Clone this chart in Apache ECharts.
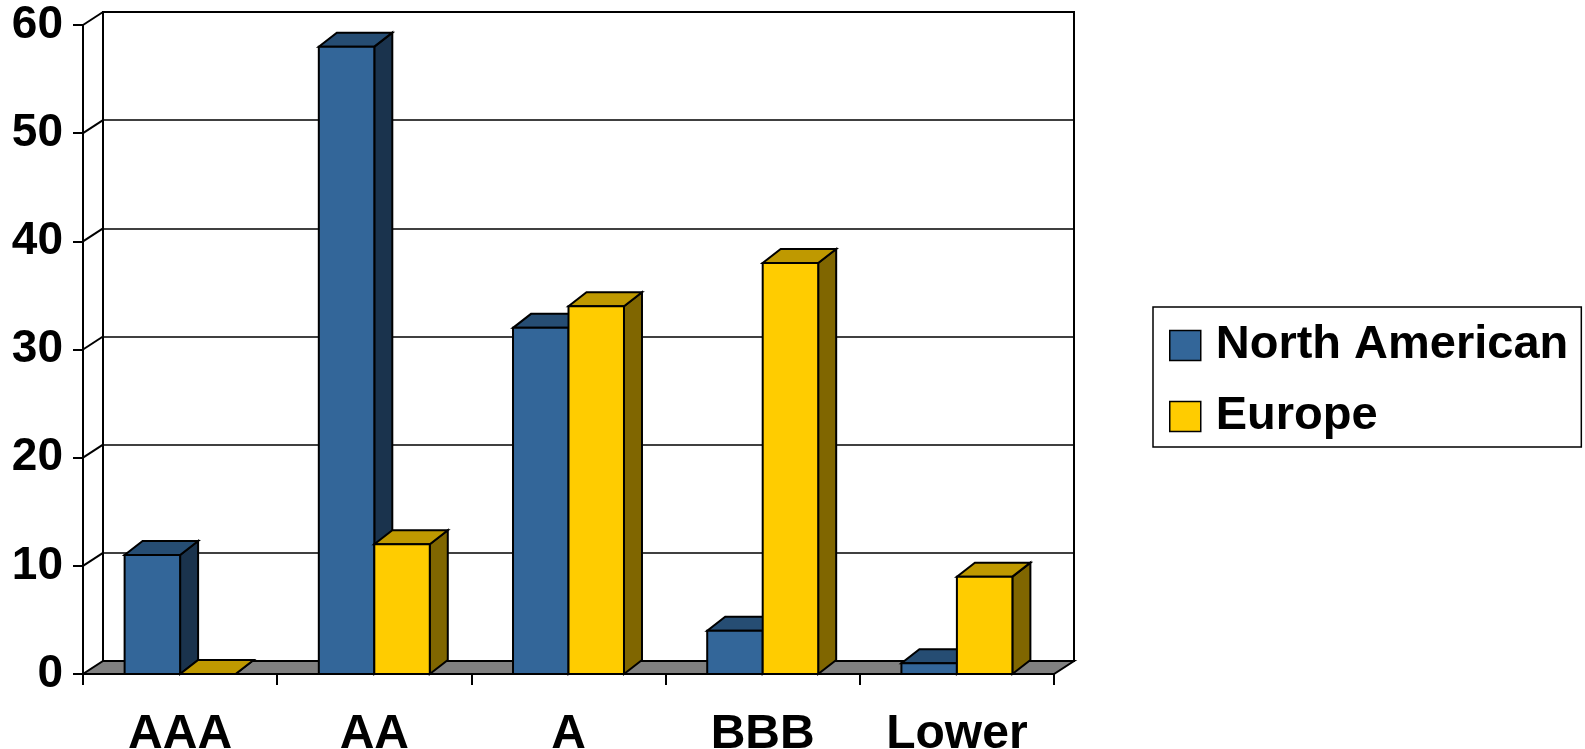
<!DOCTYPE html>
<html>
<head>
<meta charset="utf-8">
<script src="https://cdn.jsdelivr.net/npm/echarts@6/dist/echarts.min.js"></script>
<style>
  html, body { margin: 0; padding: 0; background: #ffffff; }
  #chart { width: 1585px; height: 749px; }
</style>
</head>
<body>
<div id="chart"></div>
<script>
// Rating categories and share per region (%)
const categories = ['AAA', 'AA', 'A', 'BBB', 'Lower'];
const northAmerican = [11, 58, 32, 4, 1];
const europe = [0, 12, 34, 38, 9];
const yTicks = [0, 10, 20, 30, 40, 50, 60];
const seriesNames = ['North American', 'Europe'];

const FONT = '"Liberation Sans", Arial, Helvetica, sans-serif';

// Oblique depth of the chart box (back wall / floor) and of each column
const WALL_DX = 20, WALL_DY = -13;
const BAR_DX = 18, BAR_DY = -14;
const GAP_RATIO = 1.5; // gap between clusters relative to one column width

const palette = {
  'North American': { front: '#336699', top: '#264D73', side: '#1A334D' },
  'Europe':         { front: '#FFCC00', top: '#BF9900', side: '#806600' }
};

const frontPlane = { left: 83, top: 25, width: 971, height: 649 };
const backPlane = {
  left: frontPlane.left + WALL_DX,
  top: frontPlane.top + WALL_DY,
  width: frontPlane.width,
  height: frontPlane.height
};

const edge = { stroke: '#000', lineWidth: 2, lineJoin: 'miter' };

// One 3D column: side face, top face, then front face
function columnRenderer(slot, colors) {
  return function (params, api) {
    const idx = api.value(0);
    const val = api.value(1);
    const topPt = api.coord([idx, val]);
    const basePt = api.coord([idx, 0]);
    const band = api.size([1, 0])[0];
    const w = band / (2 + GAP_RATIO);
    const x0 = topPt[0] - w + slot * w;
    const x1 = x0 + w;
    const yt = topPt[1];
    const yb = basePt[1];
    return {
      type: 'group',
      children: [
        {
          type: 'polygon',
          shape: { points: [[x1, yt], [x1, yb], [x1 + BAR_DX, yb + BAR_DY], [x1 + BAR_DX, yt + BAR_DY]] },
          style: Object.assign({ fill: colors.side }, edge)
        },
        {
          type: 'polygon',
          shape: { points: [[x0, yt], [x1, yt], [x1 + BAR_DX, yt + BAR_DY], [x0 + BAR_DX, yt + BAR_DY]] },
          style: Object.assign({ fill: colors.top }, edge)
        },
        {
          type: 'rect',
          shape: { x: x0, y: yt, width: w, height: yb - yt },
          style: Object.assign({ fill: colors.front }, edge)
        }
      ]
    };
  };
}

// Floor slab and the side-wall connectors at each value tick
function frameRenderer(params, api) {
  const cs = params.coordSys;
  const v = api.value(1);
  const y = api.coord([0, v])[1];
  const children = [];
  if (v === 0) {
    children.push({
      type: 'polygon',
      shape: { points: [
        [cs.x, y], [cs.x + cs.width, y],
        [cs.x + cs.width + WALL_DX, y + WALL_DY], [cs.x + WALL_DX, y + WALL_DY]
      ] },
      style: { fill: '#808080', stroke: '#000', lineWidth: 2 }
    });
  } else {
    children.push({
      type: 'line',
      shape: { x1: cs.x, y1: y, x2: cs.x + WALL_DX, y2: y + WALL_DY },
      style: { stroke: '#000', lineWidth: 2 }
    });
  }
  return { type: 'group', children: children };
}

const chart = echarts.init(document.getElementById('chart'), null, { renderer: 'canvas' });

const axisText = { fontFamily: FONT, fontWeight: 'bold', color: '#000' };

chart.setOption({
  animation: false,
  backgroundColor: '#ffffff',
  grid: [
    Object.assign({ show: false, outerBoundsMode: 'none', containLabel: false }, frontPlane),
    Object.assign({
      show: true, backgroundColor: '#ffffff', borderColor: '#000', borderWidth: 2,
      outerBoundsMode: 'none', containLabel: false
    }, backPlane)
  ],
  xAxis: [
    {
      type: 'category',
      gridIndex: 0,
      data: categories,
      axisLine: { show: true, lineStyle: { color: '#000', width: 2 } },
      axisTick: { show: true, length: 11, lineStyle: { color: '#000', width: 2 } },
      axisLabel: Object.assign({ fontSize: 48, margin: 37, interval: 0 }, axisText),
      splitLine: { show: false }
    },
    {
      type: 'category',
      gridIndex: 1,
      data: categories,
      show: false
    }
  ],
  yAxis: [
    {
      type: 'value',
      gridIndex: 0,
      min: 0, max: 60, interval: 10,
      axisLine: { show: true, lineStyle: { color: '#000', width: 2 } },
      axisTick: { show: true, length: 10, lineStyle: { color: '#000', width: 2 } },
      axisLabel: Object.assign({ fontSize: 46, margin: 20, formatter: v => String(v) }, axisText),
      splitLine: { show: false }
    },
    {
      type: 'value',
      gridIndex: 1,
      min: 0, max: 60, interval: 10,
      axisLine: { show: false },
      axisTick: { show: false },
      axisLabel: { show: false },
      splitLine: { show: true, lineStyle: { color: '#000', width: 1.5 } }
    }
  ],
  legend: {
    orient: 'vertical',
    left: 1153,
    top: 307,
    padding: [15, 13, 7, 16],
    itemWidth: 31,
    itemHeight: 30,
    itemGap: 24,
    borderColor: '#000',
    borderWidth: 1.5,
    backgroundColor: '#ffffff',
    selectedMode: false,
    textStyle: {
      fontFamily: FONT, fontSize: 47, fontWeight: 'bold', color: '#000',
      padding: [0, 0, 0, 10]
    },
    data: seriesNames.map(n => ({
      name: n,
      icon: 'rect',
      itemStyle: { color: palette[n].front, borderColor: '#000', borderWidth: 1.5 }
    }))
  },
  series: [
    {
      name: 'frame',
      type: 'custom',
      xAxisIndex: 0, yAxisIndex: 0,
      z: 1,
      silent: true,
      encode: { x: 0, y: 1 },
      data: yTicks.map(t => [0, t]),
      renderItem: frameRenderer
    },
    {
      name: seriesNames[0],
      type: 'custom',
      xAxisIndex: 0, yAxisIndex: 0,
      z: 3,
      encode: { x: 0, y: 1 },
      itemStyle: { color: palette[seriesNames[0]].front },
      data: categories.map((c, i) => [i, northAmerican[i]]),
      renderItem: columnRenderer(0, palette[seriesNames[0]])
    },
    {
      name: seriesNames[1],
      type: 'custom',
      xAxisIndex: 0, yAxisIndex: 0,
      z: 4,
      encode: { x: 0, y: 1 },
      itemStyle: { color: palette[seriesNames[1]].front },
      data: categories.map((c, i) => [i, europe[i]]),
      renderItem: columnRenderer(1, palette[seriesNames[1]])
    }
  ]
});
</script>
</body>
</html>
